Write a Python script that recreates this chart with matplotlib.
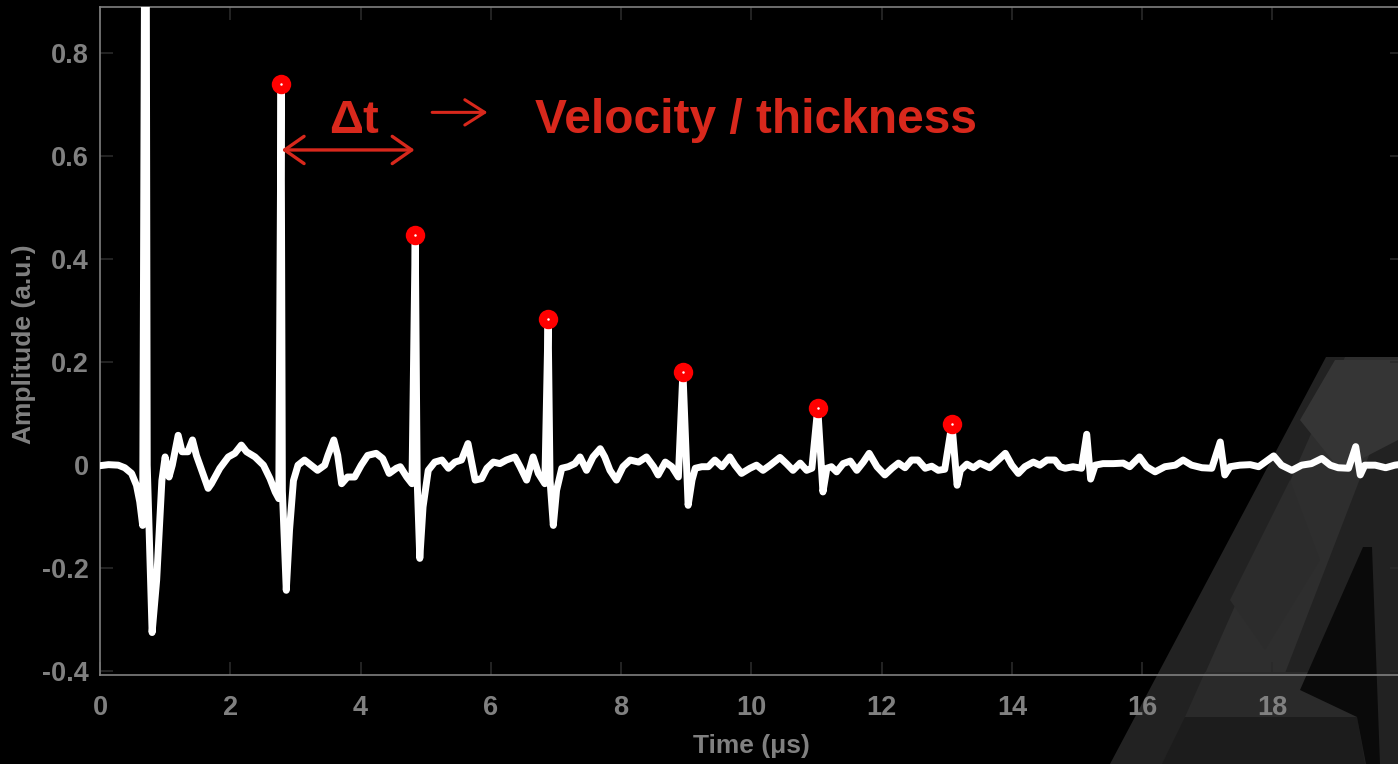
import matplotlib
matplotlib.use('Agg')
import matplotlib.pyplot as plt
from matplotlib.patches import Polygon

# ultrasonic A-scan: time in microseconds, amplitude in arbitrary units
time_us = [
    0.00, 0.13, 0.28, 0.38, 0.485, 0.56, 0.61, 0.655,
    0.685, 0.71, 0.725, 0.80, 0.87, 0.95, 1.00, 1.06, 1.11, 1.20, 1.26, 1.35,
    1.42, 1.48, 1.66, 1.71, 1.84, 1.97, 2.07, 2.17, 2.25, 2.38, 2.51, 2.61,
    2.69, 2.745, 2.78, 2.80, 2.86, 2.91, 2.97, 3.04, 3.14, 3.24, 3.34, 3.45,
    3.50, 3.59, 3.65, 3.71, 3.80, 3.91, 4.01, 4.11, 4.24, 4.34, 4.44, 4.55,
    4.61, 4.71, 4.79, 4.84, 4.87, 4.91, 4.96, 5.04, 5.14, 5.25, 5.35, 5.45,
    5.55, 5.65, 5.71, 5.76, 5.86, 5.94, 6.04, 6.14, 6.24, 6.37, 6.45, 6.55,
    6.65, 6.73, 6.83, 6.88, 6.91, 6.96, 7.01, 7.09, 7.19, 7.29, 7.37, 7.47,
    7.57, 7.68, 7.75, 7.83, 7.93, 8.03, 8.14, 8.27, 8.39, 8.50, 8.57, 8.68,
    8.78, 8.88, 8.95, 9.03, 9.09, 9.14, 9.24, 9.34, 9.44, 9.55, 9.67, 9.75,
    9.85, 9.98, 10.08, 10.18, 10.29, 10.44, 10.54, 10.64, 10.75, 10.85, 10.93, 11.02,
    11.10, 11.16, 11.23, 11.31, 11.41, 11.52, 11.62, 11.72, 11.81, 11.93, 12.05, 12.16,
    12.26, 12.36, 12.46, 12.56, 12.67, 12.77, 12.87, 12.97, 13.08, 13.16, 13.21, 13.31,
    13.41, 13.51, 13.66, 13.79, 13.90, 14.00, 14.10, 14.20, 14.33, 14.43, 14.54, 14.66,
    14.74, 14.82, 14.94, 15.07, 15.15, 15.21, 15.28, 15.40, 15.56, 15.71, 15.81, 15.96,
    16.07, 16.20, 16.35, 16.51, 16.63, 16.76, 16.92, 17.07, 17.20, 17.27, 17.35, 17.50,
    17.66, 17.79, 17.89, 18.02, 18.14, 18.30, 18.45, 18.60, 18.76, 18.89, 19.01, 19.17,
    19.28, 19.35, 19.42, 19.58, 19.74, 19.88, 20.00,
]
amplitude = [
    -0.001, 0.001, 0.000, -0.005, -0.016, -0.039, -0.071, -0.117,
    1.000, 1.000, 0.000, -0.325, -0.223, -0.030, 0.016, -0.023, 0.000, 0.058, 0.026, 0.026,
    0.049, 0.019, -0.045, -0.036, -0.006, 0.016, 0.023, 0.039, 0.026, 0.016, 0.000, -0.026,
    -0.052, -0.065, 0.740, -0.050, -0.243, -0.126, -0.030, 0.000, 0.010, 0.000, -0.010, 0.000,
    0.019, 0.049, 0.019, -0.036, -0.023, -0.023, 0.000, 0.019, 0.023, 0.013, -0.016, -0.006,
    -0.003, -0.023, -0.036, 0.447, -0.030, -0.181, -0.081, -0.010, 0.006, 0.010, -0.006, 0.006,
    0.010, 0.042, 0.003, -0.029, -0.026, -0.006, 0.006, 0.003, 0.010, 0.016, -0.003, -0.029,
    0.016, -0.016, -0.036, 0.283, -0.030, -0.117, -0.049, -0.006, -0.003, 0.003, 0.016, -0.010,
    0.016, 0.032, 0.016, -0.010, -0.029, -0.003, 0.010, 0.006, 0.016, -0.003, -0.019, 0.006,
    -0.003, -0.023, 0.181, -0.078, -0.029, -0.006, -0.003, -0.003, 0.010, -0.003, 0.016, 0.000,
    -0.016, -0.006, 0.000, -0.010, 0.000, 0.015, 0.003, -0.010, 0.004, -0.010, -0.006, 0.111,
    -0.052, -0.006, -0.003, -0.013, 0.003, 0.008, -0.010, 0.006, 0.023, -0.003, -0.019, -0.006,
    0.004, -0.005, 0.010, 0.010, -0.006, -0.002, -0.010, -0.008, 0.080, -0.039, -0.010, 0.002,
    -0.005, 0.004, -0.005, 0.010, 0.023, 0.000, -0.016, -0.003, 0.006, 0.000, 0.010, 0.010,
    -0.003, -0.006, -0.003, -0.006, 0.060, -0.027, 0.000, 0.003, 0.003, 0.004, -0.003, 0.016,
    -0.003, -0.013, -0.003, 0.000, 0.010, 0.000, -0.005, -0.006, 0.045, -0.019, -0.003, 0.000,
    0.001, -0.003, 0.006, 0.018, 0.000, -0.010, 0.000, 0.003, 0.013, 0.000, -0.005, -0.006,
    0.036, -0.019, 0.000, 0.000, -0.005, 0.000, 0.002,
]

# picked back-wall echoes
echo_time = [2.78, 4.84, 6.88, 8.95, 11.02, 13.08]
echo_amp = [0.740, 0.447, 0.283, 0.181, 0.111, 0.080]

x_ticks = [0, 2, 4, 6, 8, 10, 12, 14, 16, 18]
y_ticks = [-0.4, -0.2, 0, 0.2, 0.4, 0.6, 0.8]
y_tick_labels = ['-0.4', '-0.2', '0', '0.2', '0.4', '0.6', '0.8']

RED = '#d8281c'
GREY = '#808080'
W, H = 1398, 764

plt.rcParams['font.family'] = ['Liberation Sans', 'DejaVu Sans']
plt.rcParams['font.weight'] = 'bold'

fig = plt.figure(figsize=(W / 100, H / 100), dpi=100, facecolor='black')

# faint faceted logo behind the plot, in pixel coordinates
bg = fig.add_axes([0, 0, 1, 1], zorder=-1)
bg.set_xlim(0, W)
bg.set_ylim(H, 0)
bg.axis('off')
facets = [
    ([(1110, 764), (1326, 357), (1398, 357), (1398, 764)], '#222222'),
    ([(1165, 764), (1345, 357), (1398, 357), (1398, 380), (1250, 764)], '#2e2e2e'),
    ([(1300, 420), (1335, 360), (1398, 360), (1398, 440), (1340, 470)], '#353535'),
    ([(1230, 600), (1290, 480), (1320, 560), (1265, 650)], '#2c2c2c'),
    ([(1205, 672), (1358, 672), (1357, 717), (1185, 717)], '#2a2a2a'),
    ([(1185, 717), (1357, 717), (1365, 764), (1162, 764)], '#1c1c1c'),
    ([(1363, 547), (1300, 690), (1357, 717), (1366, 764), (1380, 764), (1372, 547)], '#0a0a0a'),
]
for verts, colour in facets:
    bg.add_patch(Polygon(verts, closed=True, facecolor=colour, edgecolor='none'))

ax = fig.add_axes([100 / W, 1 - 675.3 / H, 1302.6 / W, 668.0 / H])
ax.set_facecolor('none')

ax.plot(time_us, amplitude, color='white', lw=5,
        solid_joinstyle='round', solid_capstyle='round', zorder=3)
ax.plot(echo_time, echo_amp, 'o', ms=14, mfc='red', mec='red', mew=0, zorder=4)
ax.plot(echo_time, echo_amp, 'o', ms=1.8, mfc='white', mec='white', mew=0, zorder=5)

ax.set_xlim(0, 20)
ax.set_ylim(-0.408, 0.889)
ax.set_xticks(x_ticks)
ax.set_xticklabels([str(v) for v in x_ticks])
ax.set_yticks(y_ticks)
ax.set_yticklabels(y_tick_labels)

for side in ax.spines.values():
    side.set_color(GREY)
    side.set_linewidth(1.2)
ax.tick_params(direction='in', length=9.4, width=1.2, color='#2a2a2a',
               top=True, right=True, labelsize=19.5, labelcolor=GREY)
ax.tick_params(axis='x', pad=14)
ax.tick_params(axis='y', pad=8)

fig.text(751 / W, 1 - 753 / H, 'Time (\u03bcs)', color=GREY, fontsize=19,
         fontweight='bold', ha='center', va='baseline')
fig.text(24 / W, 1 - 344 / H, 'Amplitude (a.u.)', color=GREY, fontsize=19,
         fontweight='bold', ha='center', va='center', rotation=90)

# echo spacing annotation
ax.annotate('', xy=(4.83, 0.612), xytext=(2.79, 0.612),
            arrowprops=dict(arrowstyle='<->, head_length=0.5, head_width=0.35',
                            color=RED, lw=2.4, mutation_scale=28,
                            shrinkA=0, shrinkB=0))
ax.text(3.90, 0.645, '\u0394t', color=RED, fontsize=34, fontweight='bold',
        ha='center', va='baseline')
ax.annotate('', xy=(5.95, 0.685), xytext=(5.10, 0.685),
            arrowprops=dict(arrowstyle='->, head_length=0.55, head_width=0.35',
                            color=RED, lw=2.2, mutation_scale=26,
                            shrinkA=0, shrinkB=0))
ax.text(6.68, 0.645, 'Velocity / thickness', color=RED, fontsize=34.5,
        fontweight='bold', ha='left', va='baseline')

fig.savefig('out.png', dpi=100, facecolor='black')
